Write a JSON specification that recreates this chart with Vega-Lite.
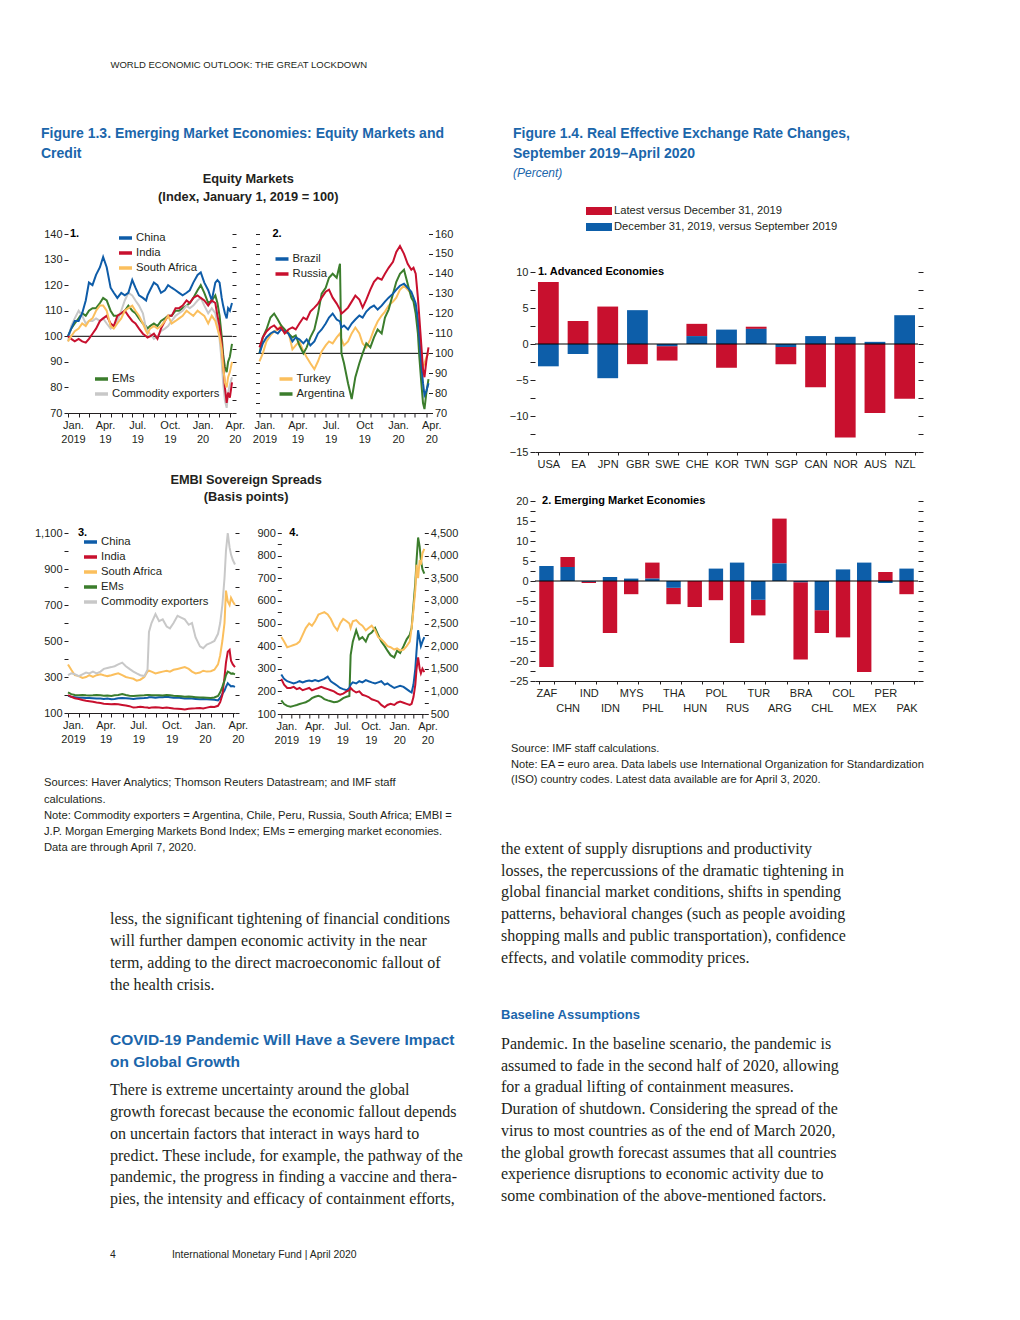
{
  "$schema": "https://vega.github.io/schema/vega-lite/v6.json",
  "background": "#ffffff",
  "padding": {"left": 34, "top": 60, "right": 10, "bottom": 10},
  "title": {"text": "WORLD ECONOMIC OUTLOOK: THE GREAT LOCKDOWN", "anchor": "start", "frame": "bounds", "dx": 76, "offset": 56.5, "fontSize": 9.5, "fontWeight": "normal", "color": "#231f20"},
  "columns": 2,
  "align": "none",
  "spacing": 37,
  "resolve": {"scale": {"color": "independent"}},
  "concat": [
    {
      "spacing": 12,
      "resolve": {"scale": {"color": "independent"}},
      "vconcat": [
        {
          "data": {"values": []}, "mark": "point", "width": 1, "height": 1,
          "title": {"text": ["Figure 1.3. Emerging Market Economies: Equity Markets and", "Credit"], "orient": "bottom", "anchor": "start", "frame": "bounds", "dx": -27, "offset": 0, "fontSize": 14, "fontWeight": "bold", "color": "#1b66ab", "lineHeight": 20}
        },
        {
          "title": {"text": "Equity Markets", "subtitle": "(Index, January 1, 2019 = 100)", "anchor": "middle", "frame": "bounds", "fontSize": 12.8, "fontWeight": "bold", "color": "#231f20", "subtitleFont": "Liberation Sans, Arial, sans-serif", "subtitleFontSize": 12.8, "subtitleFontWeight": "bold", "subtitleColor": "#231f20", "subtitlePadding": 5, "offset": 24},
          "spacing": 6.5,
          "resolve": {"scale": {"color": "independent"}},
          "hconcat": [
            {
              "width": 164, "height": 179,
              "layer": [
                {
                  "data": {"values": [{}]},
                  "mark": {"type": "rule", "color": "#000000", "strokeWidth": 1},
                  "encoding": {"y": {"datum": 100, "type": "quantitative", "scale": {"domain": [70, 140], "nice": false, "zero": false}, "axis": {"orient": "right", "values": [70,75,80,85,90,95,100,105,110,115,120,125,130,135,140], "labels": false, "domain": false}}}
                },
                {
                  "data": {"name": "eq"},
                  "transform": [{"fold": ["EMs", "Commodity exporters"], "as": ["series", "value"]}],
                  "mark": {"type": "line", "strokeWidth": 2},
                  "encoding": {
                    "x": {"field": "d", "type": "temporal", "scale": {"type": "utc", "nice": false}, "axis": null},
                    "y": {"field": "value", "type": "quantitative", "scale": {"domain": [70, 140], "nice": false, "zero": false}, "axis": null},
                    "color": {"field": "series", "type": "nominal", "scale": {"domain": ["EMs", "Commodity exporters"], "range": ["#3b7d2c", "#c8c8c8"]}, "legend": {"title": null, "legendX": 25, "legendY": 138.5}}
                  }
                },
                {
                  "data": {"name": "eq"},
                  "transform": [{"fold": ["China", "India", "South Africa"], "as": ["series", "value"]}],
                  "mark": {"type": "line", "strokeWidth": 2},
                  "encoding": {
                    "x": {"field": "d", "type": "temporal", "scale": {"type": "utc", "nice": false}, "axis": {"orient": "bottom", "tickCount": "month", "labelOffset": 5, "labelLineHeight": 14, "domain": true, "labelExpr": "utcmonth(datum.value) % 3 == 0 ? [['Jan.','Apr.','Jul.','Oct.'][utcmonth(datum.value) / 3], utcyear(datum.value) == 2019 ? (utcmonth(datum.value) == 0 ? '2019' : '19') : '20'] : ''"}},
                    "y": {"field": "value", "type": "quantitative", "scale": {"domain": [70, 140], "nice": false, "zero": false}, "axis": {"orient": "left", "values": [70,80,90,100,110,120,130,140], "domain": false}},
                    "color": {"field": "series", "type": "nominal", "scale": {"domain": ["China", "India", "South Africa"], "range": ["#0e5ca8", "#c8102e", "#fbbf5d"]}, "legend": {"title": null, "legendX": 49, "legendY": -2.5}}
                  }
                },
                {
                  "data": {"values": [{}]},
                  "mark": {"type": "text", "text": "1.", "align": "left", "baseline": "middle", "fontWeight": "bold", "fontSize": 11, "dx": 2},
                  "encoding": {"x": {"datum": {"year": 2019, "month": 1, "date": 1, "utc": true}, "type": "temporal", "axis": null}, "y": {"datum": 140, "type": "quantitative", "axis": null}}
                }
              ],
              "resolve": {"scale": {"color": "independent"}, "axis": {"x": "independent", "y": "independent"}}
            },
            {
              "width": 169, "height": 179,
              "layer": [
                {
                  "data": {"values": [{}]},
                  "mark": {"type": "rule", "color": "#000000", "strokeWidth": 1},
                  "encoding": {"y": {"datum": 100, "type": "quantitative", "scale": {"domain": [70, 160], "nice": false, "zero": false}, "axis": {"orient": "left", "values": [70,75,80,85,90,95,100,105,110,115,120,125,130,135,140,145,150,155,160], "labels": false, "domain": false}}}
                },
                {
                  "data": {"name": "eq"},
                  "transform": [{"fold": ["Turkey", "Argentina"], "as": ["series", "value"]}],
                  "mark": {"type": "line", "strokeWidth": 2},
                  "encoding": {
                    "x": {"field": "d", "type": "temporal", "scale": {"type": "utc", "nice": false}, "axis": null},
                    "y": {"field": "value", "type": "quantitative", "scale": {"domain": [70, 160], "nice": false, "zero": false}, "axis": null},
                    "color": {"field": "series", "type": "nominal", "scale": {"domain": ["Turkey", "Argentina"], "range": ["#fbbf5d", "#3b7d2c"]}, "legend": {"title": null, "legendX": 18, "legendY": 138.5}}
                  }
                },
                {
                  "data": {"name": "eq"},
                  "transform": [{"fold": ["Brazil", "Russia"], "as": ["series", "value"]}],
                  "mark": {"type": "line", "strokeWidth": 2},
                  "encoding": {
                    "x": {"field": "d", "type": "temporal", "scale": {"type": "utc", "nice": false}, "axis": {"orient": "bottom", "tickCount": "month", "labelOffset": 5, "labelLineHeight": 14, "domain": true, "labelExpr": "utcmonth(datum.value) % 3 == 0 ? [['Jan.','Apr.','Jul.','Oct'][utcmonth(datum.value) / 3], utcyear(datum.value) == 2019 ? (utcmonth(datum.value) == 0 ? '2019' : '19') : '20'] : ''"}},
                    "y": {"field": "value", "type": "quantitative", "scale": {"domain": [70, 160], "nice": false, "zero": false}, "axis": {"orient": "right", "values": [70,80,90,100,110,120,130,140,150,160], "domain": false}},
                    "color": {"field": "series", "type": "nominal", "scale": {"domain": ["Brazil", "Russia"], "range": ["#0e5ca8", "#c8102e"]}, "legend": {"title": null, "legendX": 14, "legendY": 18.5}}
                  }
                },
                {
                  "data": {"values": [{}]},
                  "mark": {"type": "text", "text": "2.", "align": "left", "baseline": "middle", "fontWeight": "bold", "fontSize": 11, "dx": 13},
                  "encoding": {"x": {"datum": {"year": 2019, "month": 1, "date": 1, "utc": true}, "type": "temporal", "axis": null}, "y": {"datum": 160, "type": "quantitative", "axis": null}}
                }
              ],
              "resolve": {"scale": {"color": "independent"}, "axis": {"x": "independent", "y": "independent"}}
            }
          ]
        },
        {
          "title": {"text": ["", "EMBI Sovereign Spreads"], "lineHeight": 17.5, "subtitle": "(Basis points)", "anchor": "middle", "frame": "bounds", "fontSize": 12.8, "fontWeight": "bold", "color": "#231f20", "subtitleFont": "Liberation Sans, Arial, sans-serif", "subtitleFontSize": 12.8, "subtitleFontWeight": "bold", "subtitleColor": "#231f20", "subtitlePadding": 5, "offset": 22.9},
          "spacing": 8.3,
          "resolve": {"scale": {"color": "independent"}},
          "hconcat": [
            {
              "width": 167, "height": 180,
              "layer": [
                {
                  "data": {"name": "sp"},
                  "transform": [{"fold": ["China", "India", "South Africa", "EMs", "Commodity exporters"], "as": ["series", "value"]}],
                  "mark": {"type": "line", "strokeWidth": 2},
                  "encoding": {
                    "x": {"field": "d", "type": "temporal", "scale": {"type": "utc", "nice": false}, "axis": {"orient": "bottom", "tickCount": "month", "labelOffset": 5, "labelLineHeight": 14, "domain": true, "labelExpr": "utcmonth(datum.value) % 3 == 0 ? [['Jan.','Apr.','Jul.','Oct.'][utcmonth(datum.value) / 3], utcyear(datum.value) == 2019 ? (utcmonth(datum.value) == 0 ? '2019' : '19') : '20'] : ''"}},
                    "y": {"field": "value", "type": "quantitative", "scale": {"domain": [100, 1100], "nice": false, "zero": false}, "axis": {"orient": "left", "values": [100,200,300,400,500,600,700,800,900,1000,1100], "format": ",d", "labelExpr": "(datum.value / 100) % 2 == 1 ? datum.label : ''", "domain": false}},
                    "color": {"field": "series", "type": "nominal", "scale": {"domain": ["China", "India", "South Africa", "EMs", "Commodity exporters"], "range": ["#0e5ca8", "#c8102e", "#fbbf5d", "#3b7d2c", "#c8c8c8"]}, "legend": {"title": null, "legendX": 14, "legendY": 2.5}}
                  }
                },
                {
                  "data": {"values": [{}]},
                  "mark": {"type": "text", "text": "3.", "align": "left", "baseline": "middle", "fontWeight": "bold", "fontSize": 11, "dx": 10},
                  "encoding": {"x": {"datum": {"year": 2019, "month": 1, "date": 1, "utc": true}, "type": "temporal", "axis": null}, "y": {"datum": 1100, "type": "quantitative", "scale": {"domain": [100, 1100], "nice": false, "zero": false}, "axis": {"orient": "right", "values": [100,200,300,400,500,600,700,800,900,1000,1100], "labels": false, "domain": false}}}
                }
              ],
              "resolve": {"axis": {"x": "independent", "y": "independent"}}
            },
            {
              "width": 143, "height": 181,
              "layer": [
                {
                  "data": {"name": "sp"},
                  "transform": [{"fold": ["Argentina"], "as": ["series", "value"]}],
                  "mark": {"type": "line", "strokeWidth": 2},
                  "encoding": {
                    "x": {"field": "d", "type": "temporal", "scale": {"type": "utc", "nice": false}, "axis": null},
                    "y": {"field": "value", "type": "quantitative", "scale": {"domain": [500, 4500], "nice": false, "zero": false}, "axis": {"orient": "right", "values": [500,750,1000,1250,1500,1750,2000,2250,2500,2750,3000,3250,3500,3750,4000,4250,4500], "format": ",d", "labelExpr": "datum.value % 500 == 0 ? datum.label : ''", "domain": false}},
                    "color": {"field": "series", "type": "nominal", "scale": {"domain": ["Brazil", "Russia", "Turkey", "Argentina"], "range": ["#0e5ca8", "#c8102e", "#fbbf5d", "#3b7d2c"]}, "legend": null}
                  }
                },
                {
                  "data": {"name": "sp"},
                  "transform": [{"fold": ["Brazil", "Russia", "Turkey"], "as": ["series", "value"]}],
                  "mark": {"type": "line", "strokeWidth": 2},
                  "encoding": {
                    "x": {"field": "d", "type": "temporal", "scale": {"type": "utc", "nice": false}, "axis": {"orient": "bottom", "tickCount": "month", "labelOffset": 5, "labelLineHeight": 14, "domain": true, "labelExpr": "utcmonth(datum.value) % 3 == 0 ? [['Jan.','Apr.','Jul.','Oct.'][utcmonth(datum.value) / 3], utcyear(datum.value) == 2019 ? (utcmonth(datum.value) == 0 ? '2019' : '19') : '20'] : ''"}},
                    "y": {"field": "value", "type": "quantitative", "scale": {"domain": [100, 900], "nice": false, "zero": false}, "axis": {"orient": "left", "values": [100,150,200,250,300,350,400,450,500,550,600,650,700,750,800,850,900], "labelExpr": "datum.value % 100 == 0 ? datum.label : ''", "domain": false}},
                    "color": {"field": "series", "type": "nominal", "scale": {"domain": ["Brazil", "Russia", "Turkey", "Argentina"], "range": ["#0e5ca8", "#c8102e", "#fbbf5d", "#3b7d2c"]}, "legend": {"title": null, "legendX": 7, "legendY": 13.5, "labelExpr": "datum.label == 'Argentina' ? 'Argentina (right scale)' : datum.label"}}
                  }
                },
                {
                  "data": {"values": [{}]},
                  "mark": {"type": "text", "text": "4.", "align": "left", "baseline": "middle", "fontWeight": "bold", "fontSize": 11, "dx": 8},
                  "encoding": {"x": {"datum": {"year": 2019, "month": 1, "date": 1, "utc": true}, "type": "temporal", "axis": null}, "y": {"datum": 900, "type": "quantitative", "scale": {"domain": [100, 900], "nice": false, "zero": false}, "axis": null}}
                }
              ],
              "resolve": {"scale": {"y": "independent"}, "axis": {"x": "independent", "y": "independent"}}
            }
          ]
        },
        {
          "data": {"values": []}, "mark": "point", "width": 1, "height": 1,
          "title": {"text": ["Sources: Haver Analytics; Thomson Reuters Datastream; and IMF staff", "calculations.", "Note: Commodity exporters = Argentina, Chile, Peru, Russia, South Africa; EMBI =", "J.P. Morgan Emerging Markets Bond Index; EMs = emerging market economies.", "Data are through April 7, 2020."], "orient": "bottom", "anchor": "start", "frame": "bounds", "dx": -24, "fontSize": 11.2, "fontWeight": "normal", "color": "#231f20", "lineHeight": 16.25, "offset": 19.4}
        },
        {
          "data": {"values": []}, "mark": "point", "width": 1, "height": 1,
          "title": {"text": ["less, the significant tightening of financial conditions", "will further dampen economic activity in the near", "term, adding to the direct macroeconomic fallout of", "the health crisis."], "orient": "bottom", "anchor": "start", "frame": "bounds", "dx": 42, "font": "Liberation Serif, Times New Roman, serif", "fontSize": 16, "fontWeight": "normal", "color": "#231f20", "lineHeight": 22, "offset": 44}
        },
        {
          "data": {"values": []}, "mark": "point", "width": 1, "height": 1,
          "title": {"text": ["COVID-19 Pandemic Will Have a Severe Impact", "on Global Growth"], "orient": "bottom", "anchor": "start", "frame": "bounds", "dx": 42, "fontSize": 15.5, "fontWeight": "bold", "color": "#1b66ab", "lineHeight": 22, "subtitle": ["\u2003\u2009There is extreme uncertainty around the global", "growth forecast because the economic fallout depends", "on uncertain factors that interact in ways hard to", "predict. These include, for example, the pathway of the", "pandemic, the progress in finding a vaccine and thera-", "pies, the intensity and efficacy of containment efforts,"], "subtitleFont": "Liberation Serif, Times New Roman, serif", "subtitleFontSize": 16, "subtitleLineHeight": 21.8, "subtitleColor": "#231f20", "subtitlePadding": 11.7, "offset": 27}
        },
        {
          "data": {"values": []}, "mark": "point", "width": 1, "height": 1,
          "title": {"text": "4\u2003\u2003\u2003\u2003\u2003\u2009\u2009International Monetary Fund | April 2020", "orient": "bottom", "anchor": "start", "frame": "bounds", "dx": 42, "fontSize": 10.4, "fontWeight": "normal", "color": "#231f20", "offset": 29}
        }
      ]
    },
    {
      "spacing": 26,
      "resolve": {"scale": {"color": "independent"}},
      "vconcat": [
        {
          "data": {"values": []}, "mark": "point", "width": 1, "height": 1,
          "title": {"text": ["Figure 1.4. Real Effective Exchange Rate Changes,", "September 2019\u2013April 2020"], "subtitle": "(Percent)", "orient": "bottom", "anchor": "start", "frame": "bounds", "dx": -22, "offset": 0, "fontSize": 14, "fontWeight": "bold", "color": "#1b66ab", "lineHeight": 20, "subtitleFont": "Liberation Sans, Arial, sans-serif", "subtitleFontSize": 12, "subtitleFontStyle": "italic", "subtitleColor": "#1b66ab", "subtitlePadding": 6.5}
        },
        {
          "width": 383, "height": 180,
          "layer": [
            {
              "data": {"name": "adv"},
              "transform": [{"fold": ["r", "b"], "as": ["series", "value"]}],
              "mark": {"type": "bar"},
              "encoding": {
                "x": {"field": "c", "type": "nominal", "scale": {"domain": ["USA","EA","JPN","GBR","SWE","CHE","KOR","TWN","SGP","CAN","NOR","AUS","NZL"], "paddingInner": 0.3, "paddingOuter": 0.1}, "axis": {"orient": "bottom", "labelAngle": 0, "domain": true, "tickSize": 3, "tickBand": "extent", "labelPadding": 3}},
                "y": {"field": "value", "type": "quantitative", "stack": "zero", "scale": {"domain": [-15, 10], "nice": false}, "axis": {"orient": "left", "values": [-15,-12.5,-10,-7.5,-5,-2.5,0,2.5,5,7.5,10], "labelExpr": "datum.value % 5 == 0 ? datum.label : ''", "domain": false, "tickSize": 5}},
                "color": {"field": "series", "type": "nominal", "scale": {"domain": ["r", "b"], "range": ["#c8102e", "#0d5ea9"]}, "legend": {"title": null, "legendX": 51, "legendY": -67, "symbolType": "M-1,-0.3H1V0.3H-1Z", "symbolSize": 676, "symbolStrokeWidth": 0, "clipHeight": 12, "rowPadding": 4, "labelOffset": 2, "labelFontSize": 11.2, "labelLimit": 400, "labelExpr": "datum.label == 'r' ? 'Latest versus December 31, 2019' : 'December 31, 2019, versus September 2019'"}},
                "order": {"field": "series", "sort": "ascending"}
              }
            },
            {
              "data": {"values": [{}]},
              "mark": {"type": "rule", "color": "#000000", "strokeWidth": 1.2},
              "encoding": {"y": {"datum": 0, "type": "quantitative", "scale": {"domain": [-15, 10], "nice": false}, "axis": {"orient": "right", "values": [-15,-12.5,-10,-7.5,-5,-2.5,0,2.5,5,7.5,10], "labels": false, "domain": false, "tickSize": 5}}}
            },
            {
              "data": {"values": [{}]},
              "mark": {"type": "text", "text": "1. Advanced Economies", "align": "left", "baseline": "middle", "fontWeight": "bold", "fontSize": 11, "dx": -10.4},
              "encoding": {"x": {"datum": "USA", "type": "nominal", "axis": null}, "y": {"datum": 10, "type": "quantitative", "axis": null}}
            }
          ],
          "resolve": {"axis": {"x": "independent", "y": "independent"}}
        },
        {
          "width": 383, "height": 180,
          "layer": [
            {
              "data": {"name": "em"},
              "transform": [{"fold": ["r", "b"], "as": ["series", "value"]}],
              "mark": {"type": "bar"},
              "encoding": {
                "x": {"field": "c", "type": "nominal", "scale": {"domain": ["ZAF","CHN","IND","IDN","MYS","PHL","THA","HUN","POL","RUS","TUR","ARG","BRA","CHL","COL","MEX","PER","PAK"], "paddingInner": 0.32, "paddingOuter": 0.2}, "axis": {"orient": "bottom", "labelAngle": 0, "domain": true, "tickSize": 3, "tickBand": "extent", "labelPadding": 3, "labelLineHeight": 15, "labelExpr": "indexof(['CHN','IDN','PHL','HUN','RUS','ARG','CHL','MEX','PAK'], datum.value) >= 0 ? ['', datum.value] : datum.value"}},
                "y": {"field": "value", "type": "quantitative", "stack": "zero", "scale": {"domain": [-25, 20], "nice": false}, "axis": {"orient": "left", "values": [-25,-22.5,-20,-17.5,-15,-12.5,-10,-7.5,-5,-2.5,0,2.5,5,7.5,10,12.5,15,17.5,20], "labelExpr": "datum.value % 5 == 0 ? datum.label : ''", "domain": false, "tickSize": 5}},
                "color": {"field": "series", "type": "nominal", "scale": {"domain": ["r", "b"], "range": ["#c8102e", "#0d5ea9"]}, "legend": null},
                "order": {"field": "series", "sort": "ascending"}
              }
            },
            {
              "data": {"values": [{}]},
              "mark": {"type": "rule", "color": "#000000", "strokeWidth": 1.2},
              "encoding": {"y": {"datum": 0, "type": "quantitative", "scale": {"domain": [-25, 20], "nice": false}, "axis": {"orient": "right", "values": [-25,-22.5,-20,-17.5,-15,-12.5,-10,-7.5,-5,-2.5,0,2.5,5,7.5,10,12.5,15,17.5,20], "labels": false, "domain": false, "tickSize": 5}}}
            },
            {
              "data": {"values": [{}]},
              "mark": {"type": "text", "text": "2. Emerging Market Economies", "align": "left", "baseline": "middle", "fontWeight": "bold", "fontSize": 11, "dx": -4.4},
              "encoding": {"x": {"datum": "ZAF", "type": "nominal", "axis": null}, "y": {"datum": 20, "type": "quantitative", "axis": null}}
            }
          ],
          "resolve": {"axis": {"x": "independent", "y": "independent"}}
        },
        {
          "data": {"values": []}, "mark": "point", "width": 1, "height": 1,
          "title": {"text": ["Source: IMF staff calculations.", "Note: EA = euro area. Data labels use International Organization for Standardization", "(ISO) country codes. Latest data available are for April 3, 2020."], "orient": "bottom", "anchor": "start", "frame": "bounds", "dx": -24, "fontSize": 11.1, "fontWeight": "normal", "color": "#231f20", "lineHeight": 15.5, "offset": 3.3}
        },
        {
          "data": {"values": []}, "mark": "point", "width": 1, "height": 1,
          "title": {"text": ["the extent of supply disruptions and productivity", "losses, the repercussions of the dramatic tightening in", "global financial market conditions, shifts in spending", "patterns, behavioral changes (such as people avoiding", "shopping malls and public transportation), confidence", "effects, and volatile commodity prices."], "orient": "bottom", "anchor": "start", "frame": "bounds", "dx": -34, "font": "Liberation Serif, Times New Roman, serif", "fontSize": 16, "fontWeight": "normal", "color": "#231f20", "lineHeight": 21.7, "offset": 28}
        },
        {
          "data": {"values": []}, "mark": "point", "width": 1, "height": 1,
          "title": {"text": "Baseline Assumptions", "orient": "bottom", "anchor": "start", "frame": "bounds", "dx": -34, "fontSize": 13, "fontWeight": "bold", "color": "#1b66ab", "subtitle": ["\u2003\u2009Pandemic. In the baseline scenario, the pandemic is", "assumed to fade in the second half of 2020, allowing", "for a gradual lifting of containment measures.", "\u2003\u2009Duration of shutdown. Considering the spread of the", "virus to most countries as of the end of March 2020,", "the global growth forecast assumes that all countries", "experience disruptions to economic activity due to", "some combination of the above-mentioned factors."], "subtitleFont": "Liberation Serif, Times New Roman, serif", "subtitleFontSize": 16, "subtitleLineHeight": 21.7, "subtitleColor": "#231f20", "subtitlePadding": 14.5, "offset": 15.5}
        }
      ]
    }
  ],
  "datasets": {
    "adv": [
      {"c": "USA", "r": 8.6, "b": -3.1},
      {"c": "EA", "r": 3.2, "b": -1.4},
      {"c": "JPN", "r": 5.2, "b": -4.75},
      {"c": "GBR", "r": -2.8, "b": 4.7},
      {"c": "SWE", "r": -2.0, "b": -0.3},
      {"c": "CHE", "r": 1.7, "b": 1.1},
      {"c": "KOR", "r": -3.3, "b": 2.0},
      {"c": "TWN", "r": 0.3, "b": 2.1},
      {"c": "SGP", "r": -2.4, "b": -0.4},
      {"c": "CAN", "r": -6.0, "b": 1.1},
      {"c": "NOR", "r": -13.0, "b": 1.0},
      {"c": "AUS", "r": -9.6, "b": 0.3},
      {"c": "NZL", "r": -7.6, "b": 4.0}
    ],
    "em": [
      {"c": "ZAF", "r": -21.5, "b": 3.75},
      {"c": "CHN", "r": 2.5, "b": 3.5},
      {"c": "IND", "r": -0.3, "b": -0.2},
      {"c": "IDN", "r": -13.0, "b": 1.0},
      {"c": "MYS", "r": -3.3, "b": 0.6},
      {"c": "PHL", "r": 4.0, "b": 0.6},
      {"c": "THA", "r": -4.1, "b": -1.7},
      {"c": "HUN", "r": -6.5, "b": 0},
      {"c": "POL", "r": -4.8, "b": 3.1},
      {"c": "RUS", "r": -15.5, "b": 4.6},
      {"c": "TUR", "r": -3.9, "b": -4.7},
      {"c": "ARG", "r": 11.2, "b": 4.4},
      {"c": "BRA", "r": -19.3, "b": -0.3},
      {"c": "CHL", "r": -5.7, "b": -7.3},
      {"c": "COL", "r": -14.1, "b": 2.9},
      {"c": "MEX", "r": -22.75, "b": 4.6},
      {"c": "PER", "r": 2.25, "b": -0.5},
      {"c": "PAK", "r": -3.3, "b": 3.1}
    ],
    "eq": [
      {"d":"2019-01-01","China":100,"India":100,"South Africa":98,"EMs":100,"Commodity exporters":98,"Brazil":100,"Russia":103,"Turkey":96,"Argentina":100},
      {"d":"2019-01-10","China":103,"India":99,"South Africa":100,"EMs":103,"Commodity exporters":104,"Brazil":105,"Russia":108,"Turkey":100,"Argentina":108},
      {"d":"2019-01-20","China":106,"India":98,"South Africa":102,"EMs":105,"Commodity exporters":107,"Brazil":108,"Russia":111,"Turkey":106,"Argentina":112},
      {"d":"2019-01-31","China":106,"India":99,"South Africa":103,"EMs":107,"Commodity exporters":110,"Brazil":110,"Russia":113,"Turkey":109,"Argentina":118},
      {"d":"2019-02-10","China":109,"India":98,"South Africa":105,"EMs":109,"Commodity exporters":108,"Brazil":111,"Russia":114,"Turkey":111,"Argentina":120},
      {"d":"2019-02-20","China":114,"India":97.5,"South Africa":104,"EMs":108,"Commodity exporters":105,"Brazil":110,"Russia":112,"Turkey":112,"Argentina":117},
      {"d":"2019-03-01","China":121,"India":99,"South Africa":106,"EMs":110,"Commodity exporters":106,"Brazil":112,"Russia":113,"Turkey":114,"Argentina":114},
      {"d":"2019-03-11","China":120,"India":101,"South Africa":107,"EMs":111,"Commodity exporters":106,"Brazil":111,"Russia":110,"Turkey":110,"Argentina":112},
      {"d":"2019-03-21","China":124,"India":103,"South Africa":110,"EMs":111,"Commodity exporters":107,"Brazil":110,"Russia":112,"Turkey":111,"Argentina":110},
      {"d":"2019-04-01","China":127,"India":106,"South Africa":112,"EMs":113,"Commodity exporters":106,"Brazil":106,"Russia":113,"Turkey":102,"Argentina":108},
      {"d":"2019-04-10","China":131,"India":107,"South Africa":112,"EMs":115,"Commodity exporters":107,"Brazil":108,"Russia":112,"Turkey":104,"Argentina":109},
      {"d":"2019-04-20","China":127,"India":108,"South Africa":110,"EMs":114,"Commodity exporters":105,"Brazil":107,"Russia":115,"Turkey":106,"Argentina":104},
      {"d":"2019-05-01","China":119,"India":105,"South Africa":104,"EMs":110,"Commodity exporters":103,"Brazil":105,"Russia":118,"Turkey":101,"Argentina":100},
      {"d":"2019-05-10","China":117,"India":104,"South Africa":103,"EMs":108,"Commodity exporters":104,"Brazil":107,"Russia":117,"Turkey":98,"Argentina":103},
      {"d":"2019-05-20","China":115,"India":108,"South Africa":105,"EMs":108,"Commodity exporters":106,"Brazil":104,"Russia":121,"Turkey":95,"Argentina":108},
      {"d":"2019-05-31","China":117,"India":109,"South Africa":107,"EMs":109,"Commodity exporters":110,"Brazil":106,"Russia":123,"Turkey":92,"Argentina":112},
      {"d":"2019-06-10","China":116,"India":110,"South Africa":110,"EMs":110,"Commodity exporters":114,"Brazil":110,"Russia":125,"Turkey":96,"Argentina":120},
      {"d":"2019-06-20","China":117,"India":108,"South Africa":111,"EMs":112,"Commodity exporters":117,"Brazil":112,"Russia":128,"Turkey":101,"Argentina":130},
      {"d":"2019-07-01","China":122,"India":106,"South Africa":112,"EMs":110,"Commodity exporters":116,"Brazil":115,"Russia":131,"Turkey":104,"Argentina":133},
      {"d":"2019-07-10","China":119,"India":105,"South Africa":110,"EMs":109,"Commodity exporters":114,"Brazil":118,"Russia":132,"Turkey":106,"Argentina":138},
      {"d":"2019-07-20","China":116,"India":103,"South Africa":108,"EMs":107,"Commodity exporters":112,"Brazil":120,"Russia":128,"Turkey":105,"Argentina":140},
      {"d":"2019-07-31","China":115,"India":101,"South Africa":105,"EMs":105,"Commodity exporters":109,"Brazil":117,"Russia":125,"Turkey":108,"Argentina":138},
      {"d":"2019-08-09","China":114,"India":100,"South Africa":102,"EMs":104,"Commodity exporters":103,"Brazil":116,"Russia":122,"Turkey":110,"Argentina":145},
      {"d":"2019-08-13","China":116,"India":99.5,"South Africa":101,"EMs":103,"Commodity exporters":102,"Brazil":113,"Russia":120,"Turkey":107,"Argentina":100},
      {"d":"2019-08-20","China":118,"India":100,"South Africa":103,"EMs":104,"Commodity exporters":101,"Brazil":114,"Russia":121,"Turkey":104,"Argentina":95},
      {"d":"2019-08-31","China":121,"India":101,"South Africa":104,"EMs":105,"Commodity exporters":99,"Brazil":112,"Russia":123,"Turkey":106,"Argentina":85},
      {"d":"2019-09-10","China":120,"India":99,"South Africa":103,"EMs":104,"Commodity exporters":100,"Brazil":115,"Russia":126,"Turkey":110,"Argentina":77},
      {"d":"2019-09-20","China":117,"India":103,"South Africa":104,"EMs":106,"Commodity exporters":102,"Brazil":117,"Russia":129,"Turkey":113,"Argentina":88},
      {"d":"2019-10-01","China":118,"India":106,"South Africa":106,"EMs":107,"Commodity exporters":103,"Brazil":119,"Russia":127,"Turkey":110,"Argentina":95},
      {"d":"2019-10-10","China":120,"India":108,"South Africa":108,"EMs":108,"Commodity exporters":104,"Brazil":118,"Russia":123,"Turkey":105,"Argentina":100},
      {"d":"2019-10-20","China":119,"India":108,"South Africa":105,"EMs":108,"Commodity exporters":106,"Brazil":121,"Russia":127,"Turkey":103,"Argentina":105},
      {"d":"2019-10-31","China":118,"India":111,"South Africa":106,"EMs":110,"Commodity exporters":108,"Brazil":123,"Russia":132,"Turkey":107,"Argentina":103},
      {"d":"2019-11-10","China":117,"India":111,"South Africa":107,"EMs":110,"Commodity exporters":109,"Brazil":124,"Russia":136,"Turkey":112,"Argentina":108},
      {"d":"2019-11-20","China":116,"India":112,"South Africa":108,"EMs":111,"Commodity exporters":110,"Brazil":122,"Russia":138,"Turkey":116,"Argentina":112},
      {"d":"2019-12-01","China":117,"India":114,"South Africa":110,"EMs":112,"Commodity exporters":112,"Brazil":124,"Russia":137,"Turkey":119,"Argentina":110},
      {"d":"2019-12-10","China":118,"India":113,"South Africa":109,"EMs":113,"Commodity exporters":111,"Brazil":126,"Russia":140,"Turkey":121,"Argentina":118},
      {"d":"2019-12-20","China":121,"India":115,"South Africa":108,"EMs":115,"Commodity exporters":112,"Brazil":128,"Russia":143,"Turkey":124,"Argentina":122},
      {"d":"2020-01-01","China":124,"India":116,"South Africa":110,"EMs":118,"Commodity exporters":114,"Brazil":130,"Russia":146,"Turkey":126,"Argentina":130},
      {"d":"2020-01-10","China":125,"India":115,"South Africa":109,"EMs":120,"Commodity exporters":115,"Brazil":132,"Russia":151,"Turkey":128,"Argentina":136},
      {"d":"2020-01-20","China":121,"India":114,"South Africa":108,"EMs":117,"Commodity exporters":112,"Brazil":134,"Russia":154,"Turkey":132,"Argentina":140},
      {"d":"2020-01-31","China":118,"India":112,"South Africa":105,"EMs":113,"Commodity exporters":109,"Brazil":135,"Russia":150,"Turkey":134,"Argentina":142},
      {"d":"2020-02-10","China":114,"India":114,"South Africa":108,"EMs":114,"Commodity exporters":111,"Brazil":133,"Russia":145,"Turkey":132,"Argentina":135},
      {"d":"2020-02-20","China":121,"India":113,"South Africa":106,"EMs":116,"Commodity exporters":109,"Brazil":131,"Russia":142,"Turkey":130,"Argentina":128},
      {"d":"2020-02-26","China":122,"India":108,"South Africa":103,"EMs":113,"Commodity exporters":105,"Brazil":128,"Russia":143,"Turkey":128,"Argentina":126},
      {"d":"2020-03-03","China":121,"India":104,"South Africa":100,"EMs":108,"Commodity exporters":99,"Brazil":125,"Russia":140,"Turkey":123,"Argentina":120},
      {"d":"2020-03-09","China":115,"India":97,"South Africa":95,"EMs":100,"Commodity exporters":90,"Brazil":117,"Russia":128,"Turkey":116,"Argentina":110},
      {"d":"2020-03-13","China":112,"India":90,"South Africa":88,"EMs":93,"Commodity exporters":82,"Brazil":108,"Russia":118,"Turkey":106,"Argentina":98},
      {"d":"2020-03-18","China":109,"India":80,"South Africa":82,"EMs":88,"Commodity exporters":75,"Brazil":95,"Russia":105,"Turkey":96,"Argentina":86},
      {"d":"2020-03-23","China":107,"India":74,"South Africa":80,"EMs":86,"Commodity exporters":72,"Brazil":85,"Russia":92,"Turkey":93,"Argentina":75},
      {"d":"2020-03-27","China":111,"India":78,"South Africa":84,"EMs":90,"Commodity exporters":78,"Brazil":79,"Russia":88,"Turkey":95,"Argentina":72},
      {"d":"2020-04-01","China":110,"India":76,"South Africa":86,"EMs":92,"Commodity exporters":81,"Brazil":81,"Russia":96,"Turkey":98,"Argentina":80},
      {"d":"2020-04-07","China":113,"India":82,"South Africa":90,"EMs":97,"Commodity exporters":84,"Brazil":85,"Russia":103,"Turkey":100,"Argentina":87}
    ],
    "sp": [
      {"d":"2019-01-01","China":195,"India":200,"South Africa":370,"EMs":215,"Commodity exporters":310,"Brazil":275,"Russia":255,"Turkey":440,"Argentina":800},
      {"d":"2019-01-10","China":190,"India":190,"South Africa":340,"EMs":205,"Commodity exporters":320,"Brazil":255,"Russia":230,"Turkey":420,"Argentina":720},
      {"d":"2019-01-20","China":188,"India":182,"South Africa":310,"EMs":200,"Commodity exporters":315,"Brazil":245,"Russia":215,"Turkey":395,"Argentina":680},
      {"d":"2019-01-31","China":185,"India":178,"South Africa":305,"EMs":198,"Commodity exporters":305,"Brazil":240,"Russia":215,"Turkey":400,"Argentina":660},
      {"d":"2019-02-10","China":185,"India":172,"South Africa":295,"EMs":200,"Commodity exporters":315,"Brazil":235,"Russia":220,"Turkey":405,"Argentina":680},
      {"d":"2019-02-20","China":183,"India":168,"South Africa":300,"EMs":198,"Commodity exporters":325,"Brazil":240,"Russia":210,"Turkey":410,"Argentina":700},
      {"d":"2019-03-01","China":183,"India":165,"South Africa":310,"EMs":197,"Commodity exporters":320,"Brazil":245,"Russia":215,"Turkey":420,"Argentina":720},
      {"d":"2019-03-11","China":182,"India":162,"South Africa":300,"EMs":198,"Commodity exporters":330,"Brazil":240,"Russia":205,"Turkey":450,"Argentina":740},
      {"d":"2019-03-21","China":180,"India":158,"South Africa":310,"EMs":200,"Commodity exporters":320,"Brazil":245,"Russia":210,"Turkey":480,"Argentina":760},
      {"d":"2019-04-01","China":180,"India":155,"South Africa":315,"EMs":198,"Commodity exporters":330,"Brazil":248,"Russia":215,"Turkey":500,"Argentina":800},
      {"d":"2019-04-10","China":178,"India":152,"South Africa":310,"EMs":196,"Commodity exporters":345,"Brazil":245,"Russia":205,"Turkey":490,"Argentina":850},
      {"d":"2019-04-20","China":180,"India":150,"South Africa":305,"EMs":197,"Commodity exporters":350,"Brazil":250,"Russia":210,"Turkey":510,"Argentina":880},
      {"d":"2019-05-01","China":177,"India":148,"South Africa":310,"EMs":195,"Commodity exporters":355,"Brazil":245,"Russia":215,"Turkey":540,"Argentina":900},
      {"d":"2019-05-10","China":178,"India":150,"South Africa":315,"EMs":198,"Commodity exporters":360,"Brazil":250,"Russia":220,"Turkey":545,"Argentina":880},
      {"d":"2019-05-20","China":182,"India":148,"South Africa":320,"EMs":200,"Commodity exporters":370,"Brazil":255,"Russia":215,"Turkey":550,"Argentina":830},
      {"d":"2019-05-31","China":183,"India":145,"South Africa":310,"EMs":205,"Commodity exporters":380,"Brazil":265,"Russia":210,"Turkey":540,"Argentina":800},
      {"d":"2019-06-10","China":182,"India":142,"South Africa":300,"EMs":200,"Commodity exporters":360,"Brazil":245,"Russia":205,"Turkey":520,"Argentina":780},
      {"d":"2019-06-20","China":180,"India":138,"South Africa":295,"EMs":196,"Commodity exporters":345,"Brazil":235,"Russia":200,"Turkey":490,"Argentina":760},
      {"d":"2019-07-01","China":178,"India":130,"South Africa":290,"EMs":195,"Commodity exporters":330,"Brazil":225,"Russia":190,"Turkey":470,"Argentina":770},
      {"d":"2019-07-10","China":180,"India":132,"South Africa":280,"EMs":196,"Commodity exporters":320,"Brazil":215,"Russia":185,"Turkey":500,"Argentina":800},
      {"d":"2019-07-20","China":182,"India":135,"South Africa":285,"EMs":197,"Commodity exporters":310,"Brazil":210,"Russia":190,"Turkey":520,"Argentina":850},
      {"d":"2019-07-31","China":183,"India":132,"South Africa":300,"EMs":198,"Commodity exporters":305,"Brazil":205,"Russia":200,"Turkey":510,"Argentina":880},
      {"d":"2019-08-09","China":185,"India":130,"South Africa":330,"EMs":200,"Commodity exporters":340,"Brazil":215,"Russia":205,"Turkey":500,"Argentina":900},
      {"d":"2019-08-13","China":187,"India":128,"South Africa":335,"EMs":200,"Commodity exporters":550,"Brazil":230,"Russia":215,"Turkey":480,"Argentina":1800},
      {"d":"2019-08-20","China":188,"India":130,"South Africa":330,"EMs":199,"Commodity exporters":600,"Brazil":240,"Russia":205,"Turkey":510,"Argentina":2100},
      {"d":"2019-08-31","China":185,"India":132,"South Africa":320,"EMs":198,"Commodity exporters":650,"Brazil":235,"Russia":195,"Turkey":515,"Argentina":2350},
      {"d":"2019-09-10","China":187,"India":130,"South Africa":325,"EMs":198,"Commodity exporters":610,"Brazil":245,"Russia":200,"Turkey":500,"Argentina":2150},
      {"d":"2019-09-20","China":188,"India":128,"South Africa":330,"EMs":197,"Commodity exporters":620,"Brazil":240,"Russia":185,"Turkey":490,"Argentina":2200},
      {"d":"2019-10-01","China":190,"India":130,"South Africa":335,"EMs":200,"Commodity exporters":580,"Brazil":250,"Russia":180,"Turkey":470,"Argentina":2100},
      {"d":"2019-10-10","China":188,"India":128,"South Africa":330,"EMs":198,"Commodity exporters":570,"Brazil":245,"Russia":175,"Turkey":480,"Argentina":2250},
      {"d":"2019-10-20","China":185,"India":125,"South Africa":340,"EMs":196,"Commodity exporters":600,"Brazil":240,"Russia":165,"Turkey":490,"Argentina":2300},
      {"d":"2019-10-31","China":186,"India":124,"South Africa":345,"EMs":195,"Commodity exporters":640,"Brazil":235,"Russia":160,"Turkey":470,"Argentina":2400},
      {"d":"2019-11-10","China":183,"India":122,"South Africa":350,"EMs":193,"Commodity exporters":630,"Brazil":240,"Russia":155,"Turkey":440,"Argentina":2250},
      {"d":"2019-11-20","China":180,"India":120,"South Africa":355,"EMs":190,"Commodity exporters":620,"Brazil":245,"Russia":140,"Turkey":430,"Argentina":2100},
      {"d":"2019-12-01","China":182,"India":123,"South Africa":345,"EMs":192,"Commodity exporters":590,"Brazil":230,"Russia":130,"Turkey":415,"Argentina":2000},
      {"d":"2019-12-10","China":180,"India":125,"South Africa":330,"EMs":190,"Commodity exporters":600,"Brazil":235,"Russia":140,"Turkey":400,"Argentina":1900},
      {"d":"2019-12-20","China":178,"India":126,"South Africa":320,"EMs":188,"Commodity exporters":520,"Brazil":225,"Russia":145,"Turkey":395,"Argentina":1800},
      {"d":"2020-01-01","China":176,"India":128,"South Africa":325,"EMs":186,"Commodity exporters":470,"Brazil":215,"Russia":140,"Turkey":385,"Argentina":1750},
      {"d":"2020-01-10","China":178,"India":125,"South Africa":335,"EMs":186,"Commodity exporters":460,"Brazil":220,"Russia":150,"Turkey":390,"Argentina":1900},
      {"d":"2020-01-20","China":177,"India":130,"South Africa":330,"EMs":185,"Commodity exporters":480,"Brazil":225,"Russia":155,"Turkey":380,"Argentina":1850},
      {"d":"2020-01-31","China":175,"India":135,"South Africa":332,"EMs":184,"Commodity exporters":490,"Brazil":220,"Russia":150,"Turkey":385,"Argentina":2000},
      {"d":"2020-02-10","China":173,"India":134,"South Africa":340,"EMs":186,"Commodity exporters":500,"Brazil":210,"Russia":145,"Turkey":400,"Argentina":2150},
      {"d":"2020-02-20","China":170,"India":140,"South Africa":370,"EMs":195,"Commodity exporters":540,"Brazil":200,"Russia":140,"Turkey":420,"Argentina":2250},
      {"d":"2020-02-26","China":185,"India":160,"South Africa":420,"EMs":215,"Commodity exporters":600,"Brazil":195,"Russia":145,"Turkey":480,"Argentina":2400},
      {"d":"2020-03-03","China":205,"India":200,"South Africa":500,"EMs":245,"Commodity exporters":700,"Brazil":230,"Russia":175,"Turkey":560,"Argentina":2900},
      {"d":"2020-03-09","China":225,"India":300,"South Africa":600,"EMs":280,"Commodity exporters":850,"Brazil":300,"Russia":230,"Turkey":650,"Argentina":3400},
      {"d":"2020-03-13","China":245,"India":380,"South Africa":780,"EMs":310,"Commodity exporters":1000,"Brazil":380,"Russia":300,"Turkey":760,"Argentina":3900},
      {"d":"2020-03-18","China":265,"India":440,"South Africa":720,"EMs":330,"Commodity exporters":1100,"Brazil":470,"Russia":350,"Turkey":700,"Argentina":4400},
      {"d":"2020-03-23","China":255,"India":450,"South Africa":700,"EMs":325,"Commodity exporters":1020,"Brazil":430,"Russia":300,"Turkey":780,"Argentina":4200},
      {"d":"2020-03-27","China":248,"India":390,"South Africa":740,"EMs":318,"Commodity exporters":980,"Brazil":400,"Russia":280,"Turkey":760,"Argentina":3900},
      {"d":"2020-04-01","China":250,"India":370,"South Africa":720,"EMs":320,"Commodity exporters":950,"Brazil":420,"Russia":300,"Turkey":810,"Argentina":3700},
      {"d":"2020-04-07","China":245,"India":355,"South Africa":700,"EMs":315,"Commodity exporters":925,"Brazil":440,"Russia":285,"Turkey":830,"Argentina":3600}
    ]
  },
  "config": {
    "view": {"stroke": null},
    "font": "Liberation Sans, Arial, sans-serif",
    "axis": {"labelFont": "Liberation Sans, Arial, sans-serif", "labelFontSize": 11, "labelColor": "#231f20", "tickColor": "#231f20", "domainColor": "#231f20", "grid": false, "tickSize": 4, "labelPadding": 2, "labelOverlap": false, "labelBound": false, "labelFlush": false, "tickWidth": 1, "domainWidth": 1, "title": null},
    "legend": {"labelFont": "Liberation Sans, Arial, sans-serif", "labelFontSize": 11.3, "labelColor": "#231f20", "padding": 0, "orient": "none", "symbolStrokeWidth": 3.5, "symbolSize": 169, "clipHeight": 13, "rowPadding": 2, "labelOffset": 2, "symbolType": "stroke"},
    "title": {"font": "Liberation Sans, Arial, sans-serif", "color": "#231f20"}
  }
}
